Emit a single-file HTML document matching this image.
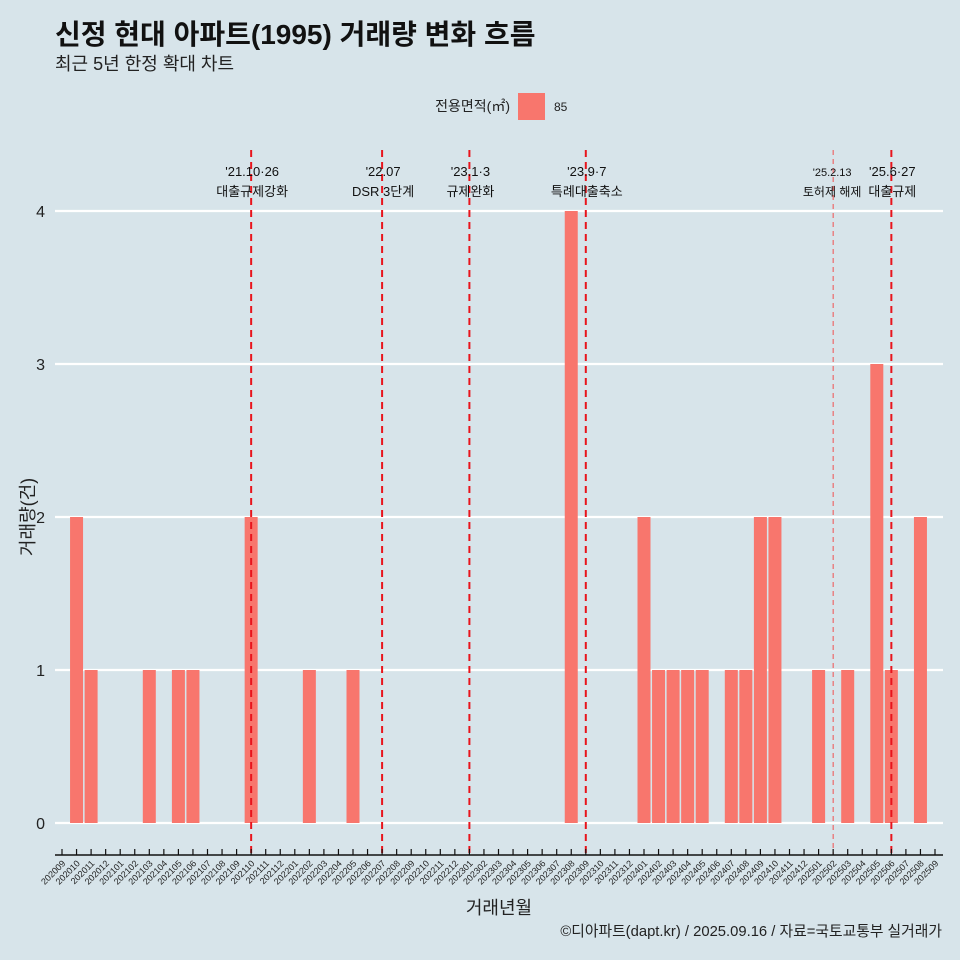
<!DOCTYPE html>
<html><head><meta charset="utf-8">
<style>
body{margin:0;background:#d7e4ea;}
svg{display:block;font-family:"Liberation Sans","Noto Sans CJK KR",sans-serif;}
</style></head>
<body>
<svg id="c" width="960" height="960" viewBox="0 0 960 960">
<rect width="960" height="960" fill="#d7e4ea"/>
<text x="55" y="44" font-size="28" font-weight="bold" fill="#111">신정 현대 아파트(1995) 거래량 변화 흐름</text>
<text x="55" y="70" font-size="18" fill="#222">최근 5년 한정 확대 차트</text>
<g>
<text x="510" y="111" font-size="14" text-anchor="end" fill="#222">전용면적(㎡)</text>
<rect x="518" y="93" width="27" height="27" fill="#f8766d"/>
<text x="554" y="111" font-size="12" fill="#222">85</text>
</g>
<g id="grid"></g><g id="bars"></g><g id="vlines"></g><g id="axes"></g>
<text x="499" y="914" font-size="18" text-anchor="middle" fill="#222">거래년월</text>
<text transform="translate(34,517) rotate(-90)" font-size="18" text-anchor="middle" fill="#222">거래량(건)</text>
<text x="942" y="936" font-size="14.8" text-anchor="end" fill="#222">©디아파트(dapt.kr) / 2025.09.16 / 자료=국토교통부 실거래가</text>
</svg>
<script>
const months=[];for(let y=2020;y<=2025;y++)for(let m=1;m<=12;m++){const k=y*100+m;if(k>=202009&&k<=202509)months.push(String(k));}
const barMonths=["202010","202011","202103","202105","202106","202110","202202","202205","202308","202401","202402","202403","202404","202405","202407","202408","202409","202410","202501","202503","202505","202506","202508"];
const barValues=[2,1,1,1,1,2,1,1,4,2,1,1,1,1,1,1,2,2,1,1,3,1,2];
const yTicks=[0,1,2,3,4];
const eventMonths=["202110","202207","202301","202309","202502","202506"];
const eventLine1=["'21.10·26","'22.07","'23.1·3","'23.9·7","'25.2.13","'25.6·27"];
const eventLine2=["대출규제강화","DSR 3단계","규제완화","특례대출축소","토허제 해제","대출규제"];
const NS="http://www.w3.org/2000/svg";
const x=i=>62+i*(873/(months.length-1));
const y=v=>823-v*153;
function mk(t,a,p){const e=document.createElementNS(NS,t);for(const k in a)e.setAttribute(k,a[k]);document.getElementById(p).appendChild(e);return e;}
yTicks.forEach(v=>{
 const l=mk('line',{x1:55,x2:943,y1:y(v),y2:y(v),stroke:'#fff','stroke-width':2.2},'grid');
 
 
 const t=mk('text',{x:45,y:y(v)+6,'font-size':16,'text-anchor':'end',fill:'#222'},'grid');t.textContent=v;
 
 
});
barMonths.forEach((m,j)=>{
 const i=months.indexOf(m);const v=barValues[j];
 const r=mk('rect',{x:x(i)-6.5,y:y(v),width:13,height:y(0)-y(v),fill:'#f8766d'},'bars');
 
 
});
eventMonths.forEach((m,j)=>{
 const i=months.indexOf(m);const small=m==="202502";
 const l=mk('line',{x1:x(i),x2:x(i),y1:150,y2:855,stroke:small?'#f05050':'#e8141c','stroke-width':small?1:2,'stroke-dasharray':small?'5,4':'7,5'},'vlines');
 
 
 const t1=mk('text',{x:x(i)+(small?-1:1),y:176,'font-size':small?11:13,'text-anchor':'middle',fill:'#111'},'vlines');t1.textContent=eventLine1[j];
 
 
 const t2=mk('text',{x:x(i)+(small?-1:1),y:196,'font-size':small?12:13,'text-anchor':'middle',fill:'#111'},'vlines');t2.textContent=eventLine2[j];
 
 
});
const ax=mk('line',{x1:55,x2:943,y1:855,y2:855,stroke:'#111','stroke-width':1.5},'axes');


months.forEach((m,i)=>{
 const tk=mk('line',{x1:x(i),x2:x(i),y1:849,y2:855,stroke:'#111','stroke-width':1.2},'axes');
 
 
 const t=mk('text',{x:x(i)+4,y:864,'font-size':9,'text-anchor':'end',fill:'#222',transform:`rotate(-45 ${x(i)+4} 864)`},'axes');t.textContent=m;
 
 
});
</script>
</body></html>
